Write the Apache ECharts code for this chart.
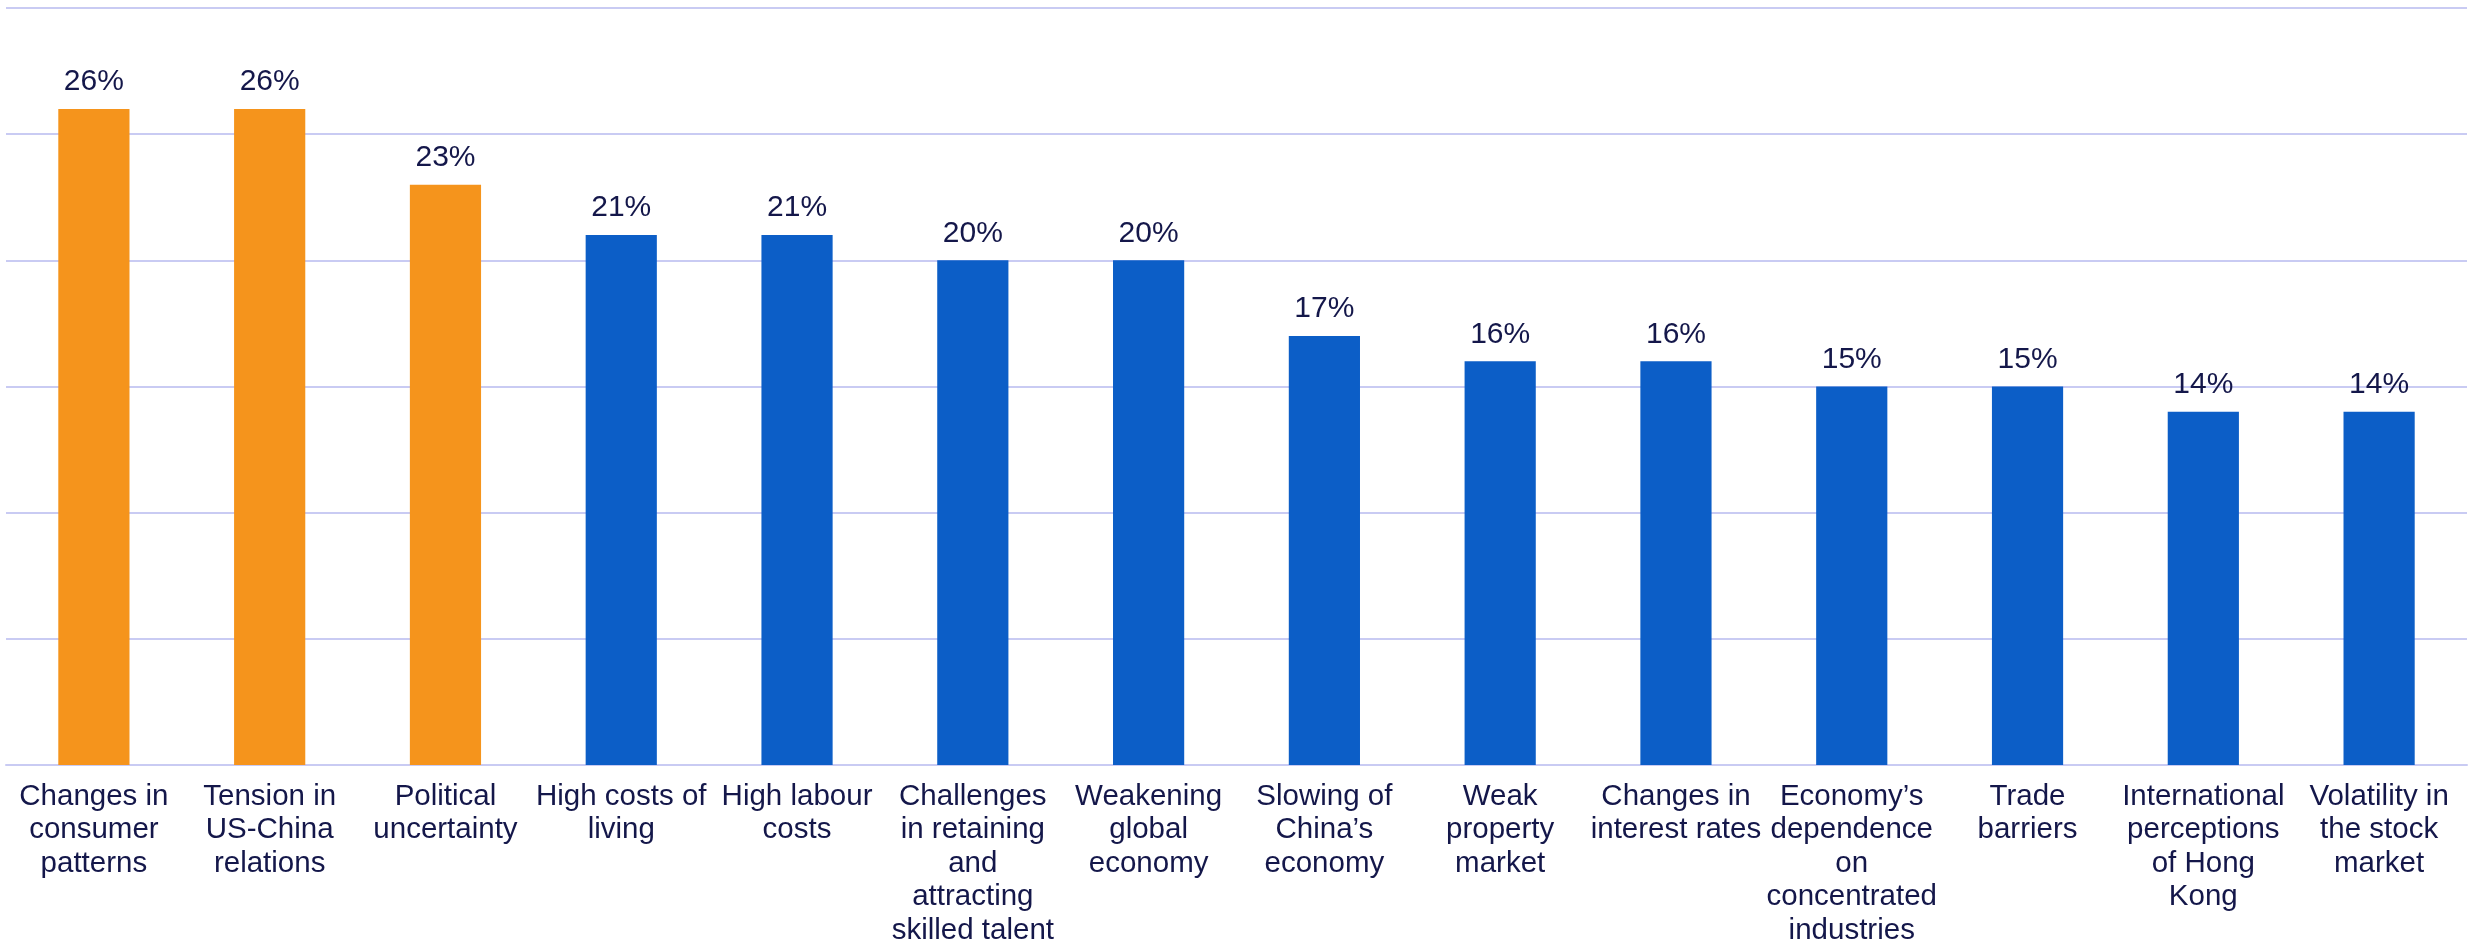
<!DOCTYPE html>
<html>
<head>
<meta charset="utf-8">
<style>
  html, body { margin: 0; padding: 0; background: #ffffff; }
  #chart { width: 2473px; height: 947px; }
</style>
<script src="https://cdn.jsdelivr.net/npm/echarts@6/dist/echarts.min.js"></script>
</head>
<body>
<div id="chart"></div>
<script>
// Concerns, ranked by share of respondents (%)
const categories = [
  'Changes in\nconsumer\npatterns',
  'Tension in\nUS-China\nrelations',
  'Political\nuncertainty',
  'High costs of\nliving',
  'High labour\ncosts',
  'Challenges\nin retaining\nand\nattracting\nskilled talent',
  'Weakening\nglobal\neconomy',
  'Slowing of\nChina\u2019s\neconomy',
  'Weak\nproperty\nmarket',
  'Changes in\ninterest rates',
  'Economy\u2019s\ndependence\non\nconcentrated\nindustries',
  'Trade\nbarriers',
  'International\nperceptions\nof Hong\nKong',
  'Volatility in\nthe stock\nmarket'
];
const shares = [26, 26, 23, 21, 21, 20, 20, 17, 16, 16, 15, 15, 14, 14];
// The first few concerns are highlighted in orange
const topGroupSize = 3;

const ORANGE = '#F5941C';
const BLUE = '#0C5EC7';
const TEXT = '#14174A';
const GRID = '#C9CBF3';
const FONT = '"Liberation Sans", Arial, sans-serif';

const chart = echarts.init(document.getElementById('chart'), null, { renderer: 'canvas' });

chart.setOption({
  animation: false,
  backgroundColor: '#ffffff',
  grid: {
    left: 6, right: 6, top: 8, bottom: 182,
    containLabel: false,
    outerBoundsMode: 'none'
  },
  xAxis: {
    type: 'category',
    data: categories,
    axisLine: { show: true, lineStyle: { color: GRID, width: 2 } },
    axisTick: { show: false },
    axisLabel: {
      interval: 0,
      margin: 15,
      color: TEXT,
      fontFamily: FONT,
      fontSize: 29.5,
      lineHeight: 33.5,
      align: 'center'
    }
  },
  yAxis: {
    type: 'value',
    min: 0,
    max: 30,
    interval: 5,
    axisLabel: { show: false },
    axisLine: { show: false },
    axisTick: { show: false },
    splitLine: { show: true, lineStyle: { color: GRID, width: 2 } }
  },
  series: [{
    type: 'bar',
    barWidth: '40.5%',
    data: shares.map((v, i) => ({
      value: v,
      itemStyle: { color: i < topGroupSize ? ORANGE : BLUE }
    })),
    label: {
      show: true,
      position: 'top',
      distance: 12,
      color: TEXT,
      fontFamily: FONT,
      fontSize: 30,
      formatter: p => p.value + '%'
    }
  }]
});
</script>
</body>
</html>
